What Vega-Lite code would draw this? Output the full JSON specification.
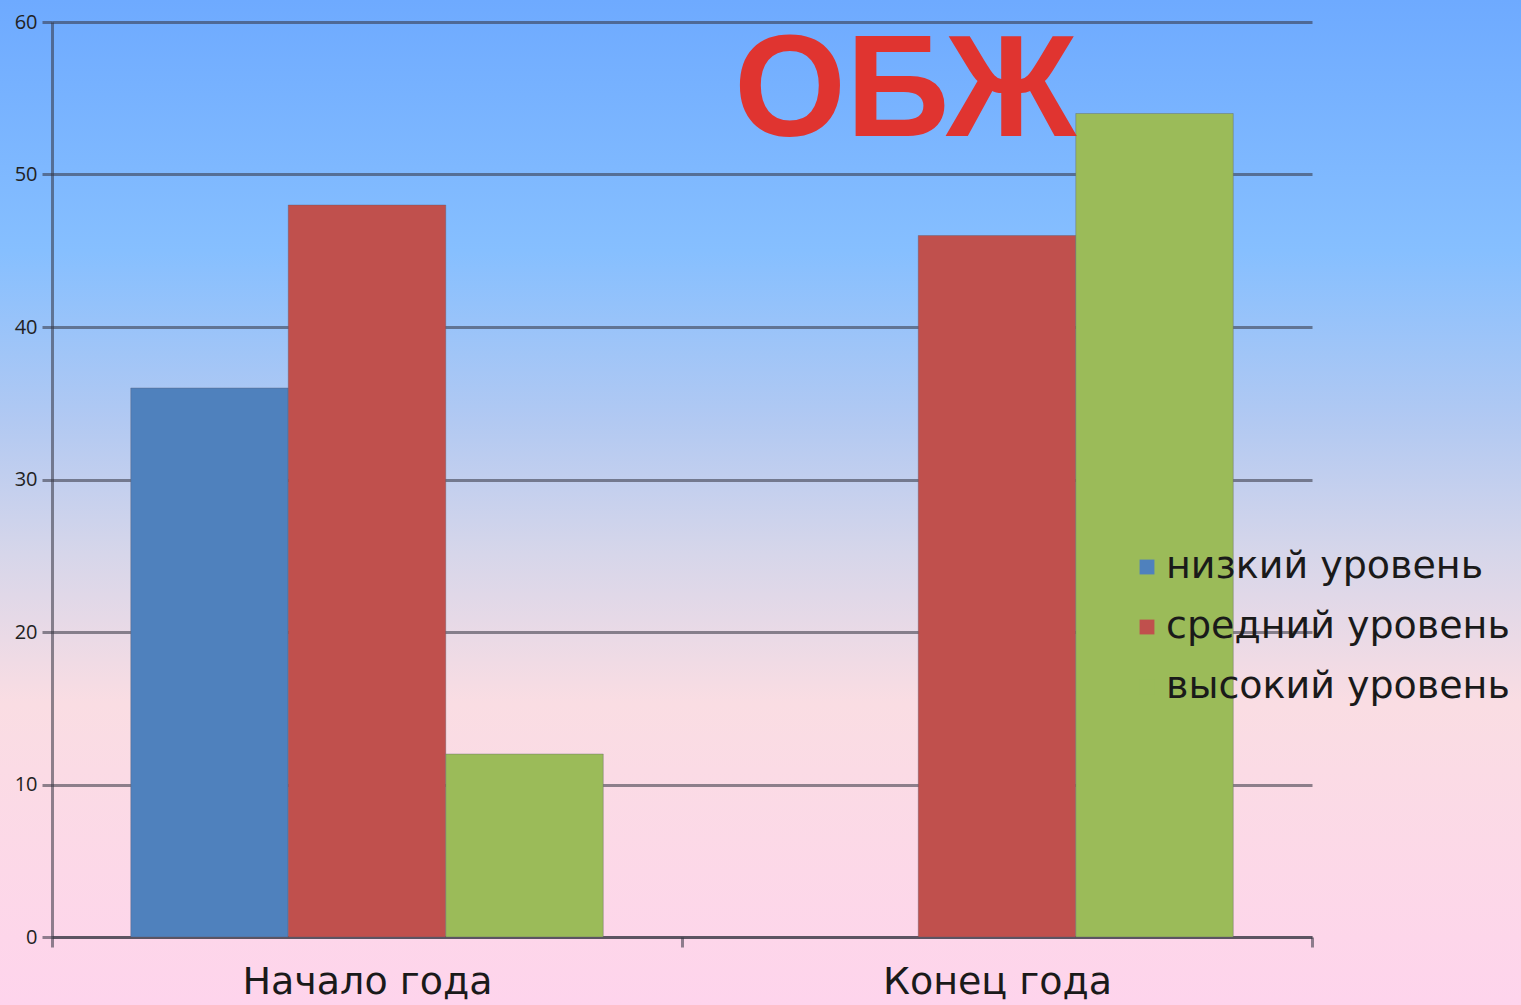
{
  "$schema": "https://vega.github.io/schema/vega-lite/v6.json",
  "width": 1521,
  "height": 1005,
  "autosize": {"type": "none"},
  "padding": 0,
  "background": "#fed5ea",
  "layer": [
    {
      "data": {
        "values": [
          {"period": "Начало года", "level": "низкий уровень", "value": 36},
          {"period": "Начало года", "level": "средний уровень", "value": 48},
          {"period": "Начало года", "level": "высокий уровень", "value": 12},
          {"period": "Конец года", "level": "средний уровень", "value": 46},
          {"period": "Конец года", "level": "высокий уровень", "value": 54}
        ]
      },
      "mark": {"type": "bar", "stroke": "#556", "strokeOpacity": 0.35, "strokeWidth": 1},
      "encoding": {
        "x": {
          "field": "period",
          "type": "nominal",
          "sort": ["Начало года", "Конец года"],
          "scale": {"domain": ["Начало года", "Конец года"], "range": [52, 1312], "paddingInner": 0, "paddingOuter": 0},
          "axis": {
            "title": null,
            "orient": "bottom",
            "offset": -68,
            "labelAngle": 0,
            "labelFont": "DejaVu Sans",
            "labelFontSize": 38,
            "labelColor": "#1a1a1a",
            "labelPadding": 16,
            "labelLimit": 600,
            "tickBand": "extent",
            "tickSize": 10,
            "tickWidth": 3,
            "tickColor": "#333340",
            "tickOpacity": 0.55,
            "domainColor": "#333340",
            "domainOpacity": 0.55,
            "domainWidth": 3,
            "grid": false
          }
        },
        "xOffset": {
          "field": "level",
          "type": "nominal",
          "sort": ["низкий уровень", "средний уровень", "высокий уровень"],
          "scale": {"domain": ["низкий уровень", "средний уровень", "высокий уровень"], "paddingInner": 0, "paddingOuter": 0.5}
        },
        "y": {
          "field": "value",
          "type": "quantitative",
          "scale": {"domain": [0, 60], "range": [937, 22], "nice": false},
          "axis": {
            "title": null,
            "orient": "left",
            "offset": -52,
            "values": [0, 10, 20, 30, 40, 50, 60],
            "labelFont": "Open Sans",
            "labelFontSize": 20,
            "labelColor": "#222222",
            "labelPadding": 5,
            "tickSize": 10,
            "tickWidth": 3,
            "tickColor": "#333340",
            "tickOpacity": 0.55,
            "domainColor": "#333340",
            "domainOpacity": 0.55,
            "domainWidth": 3,
            "grid": true,
            "gridColor": "#333340",
            "gridOpacity": 0.55,
            "gridWidth": 3
          }
        },
        "color": {
          "field": "level",
          "type": "nominal",
          "sort": ["низкий уровень", "средний уровень", "высокий уровень"],
          "scale": {
            "domain": ["низкий уровень", "средний уровень", "высокий уровень"],
            "range": ["#4f81bd", "#c0504d", "#9bbb59"]
          },
          "legend": {
            "title": null,
            "orient": "none",
            "legendX": 1128,
            "legendY": 548,
            "padding": 0,
            "symbolType": "square",
            "symbolSize": 220,
            "symbolStrokeWidth": 0,
            "labelFont": "DejaVu Sans",
            "labelFontSize": 38,
            "labelColor": "#1a1a1a",
            "labelOffset": 0,
            "labelLimit": 600,
            "rowPadding": 22
          }
        }
      }
    },
    {
      "data": {"values": [{"label": "ОБЖ", "period": "Конец года", "value": 52.5}]},
      "mark": {
        "type": "text",
        "font": "Liberation Sans",
        "fontSize": 144,
        "fontWeight": "bold",
        "color": "#e03430",
        "align": "center",
        "baseline": "alphabetic",
        "dx": -92
      },
      "encoding": {
        "x": {"field": "period", "type": "nominal"},
        "y": {"field": "value", "type": "quantitative"},
        "text": {"field": "label"}
      }
    }
  ],
  "config": {
    "view": {
      "stroke": null,
      "fill": {
        "gradient": "linear",
        "x1": 0, "y1": 0, "x2": 0, "y2": 1,
        "stops": [
          {"offset": 0, "color": "#6eaaff"},
          {"offset": 0.25, "color": "#86bfff"},
          {"offset": 0.42, "color": "#b2c9f2"},
          {"offset": 0.55, "color": "#d6d6ea"},
          {"offset": 0.7, "color": "#fadde3"},
          {"offset": 1, "color": "#fed4ec"}
        ]
      }
    }
  }
}
